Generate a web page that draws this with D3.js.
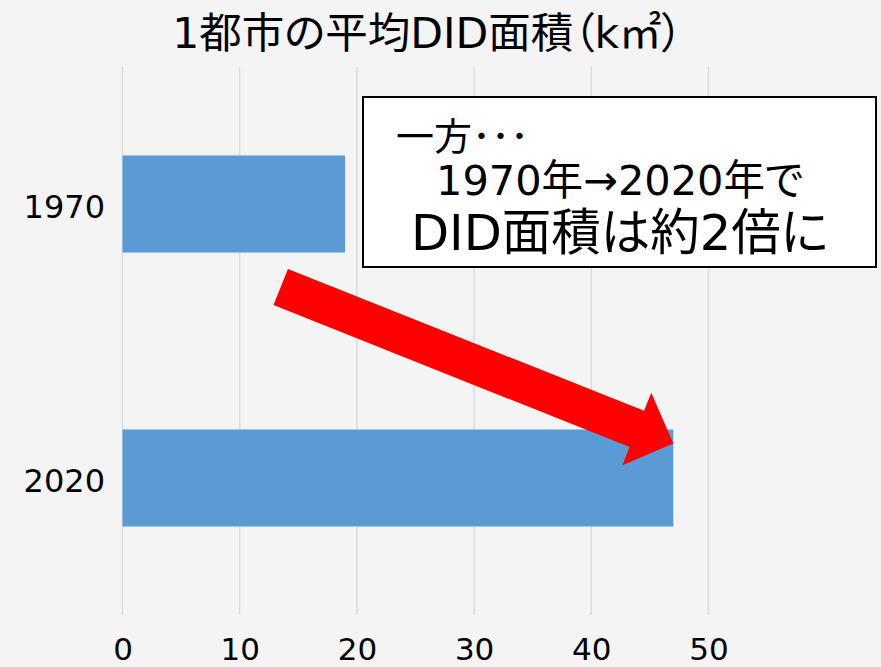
<!DOCTYPE html>
<html><head><meta charset="utf-8">
<script src="https://cdn.jsdelivr.net/npm/d3@7"></script>
<style>
html,body{margin:0;padding:0;background:#f4f4f4;}
svg{display:block;}
text{font-family:"DejaVu Sans","Noto Sans CJK JP",sans-serif;fill:#000;font-feature-settings:"palt";}
</style></head><body>
<div id="chart"></div>
<script>
const title = "1都市の平均DID面積（k㎡）";
const categories = ["1970", "2020"];
const values = [19, 47];
const xTicks = [0, 10, 20, 30, 40, 50];
const noteLines = ["一方･･･", "1970年→2020年で", "DID面積は約2倍に"];

const W = 881, H = 667;
const m = {top: 67, right: 172, bottom: 52, left: 122.5};

const svg = d3.select("#chart").append("svg").attr("width", W).attr("height", H);
svg.append("rect").attr("width", W).attr("height", H).attr("fill", "#f4f4f4");

const x = d3.scaleLinear().domain([0, 50]).range([m.left, 708.5]);
const y = d3.scaleBand().domain(categories).range([m.top, H - m.bottom]).paddingInner(0.646).paddingOuter(0.323);

// gridlines
svg.append("g").selectAll("line").data(xTicks).join("line")
  .attr("x1", d => x(d)).attr("x2", d => x(d))
  .attr("y1", m.top).attr("y2", H - m.bottom)
  .attr("stroke", "#d9d9d9").attr("stroke-width", 1.3);

// bars
svg.append("g").selectAll("rect").data(categories).join("rect")
  .attr("x", x(0)).attr("y", d => y(d))
  .attr("width", (d, i) => x(values[i]) - x(0))
  .attr("height", y.bandwidth())
  .attr("fill", "#5b9bd5");

// x axis labels
const xAxis = svg.append("g").attr("transform", `translate(0,${H - m.bottom})`)
  .call(d3.axisBottom(x).tickValues(xTicks).tickSize(0).tickPadding(0));
xAxis.select(".domain").remove();
xAxis.selectAll("text").attr("font-size", 31).attr("y", 0).attr("dy", 45)
  .attr("font-family", '"DejaVu Sans"').attr("fill", "#000");

// y axis labels
const yAxis = svg.append("g").attr("transform", `translate(${m.left},0)`)
  .call(d3.axisLeft(y).tickSize(0).tickPadding(17.5));
yAxis.select(".domain").remove();
yAxis.selectAll("text").attr("font-size", 32).attr("dy", 13.5)
  .attr("font-family", '"DejaVu Sans"').attr("fill", "#000");

// title
svg.append("text").attr("x", 427.5).attr("y", 48).attr("text-anchor", "middle")
  .attr("font-size", 42.5).text(title);

// arrow (from 1970 bar region to end of 2020 bar)
const tail = [x(13.5), y("1970") + y.bandwidth() / 2 + 83];
const tip = [x(values[1]), y("2020") + y.bandwidth() / 2 - 34.5];
const shaftHalf = 19.5, headHalf = 39, headLen = 39.3;
const dx = tip[0] - tail[0], dy = tip[1] - tail[1];
const len = Math.hypot(dx, dy);
const ux = dx / len, uy = dy / len, nx = -uy, ny = ux;
const bx = tip[0] - ux * headLen, by = tip[1] - uy * headLen;
const pts = [
  [tail[0] - nx * shaftHalf, tail[1] - ny * shaftHalf],
  [bx - nx * shaftHalf, by - ny * shaftHalf],
  [bx - nx * headHalf, by - ny * headHalf],
  tip,
  [bx + nx * headHalf, by + ny * headHalf],
  [bx + nx * shaftHalf, by + ny * shaftHalf],
  [tail[0] + nx * shaftHalf, tail[1] + ny * shaftHalf]
];
svg.append("path").attr("d", d3.line()(pts) + "Z").attr("fill", "#ff0000");

// note box
const note = svg.append("g");
note.append("rect").attr("x", 363).attr("y", 97).attr("width", 513).attr("height", 170)
  .attr("fill", "#fff").attr("stroke", "#000").attr("stroke-width", 2);
const noteSpecs = [
  {x: 396, y: 150, size: 38},
  {x: 436, y: 195, size: 41.5},
  {x: 411, y: 250, size: 49.5}
];
note.selectAll("text.note").data(noteLines).join("text").attr("class", "note")
  .attr("x", (d, i) => noteSpecs[i].x).attr("y", (d, i) => noteSpecs[i].y)
  .attr("font-size", (d, i) => noteSpecs[i].size).text(d => d);
</script>
</body></html>
